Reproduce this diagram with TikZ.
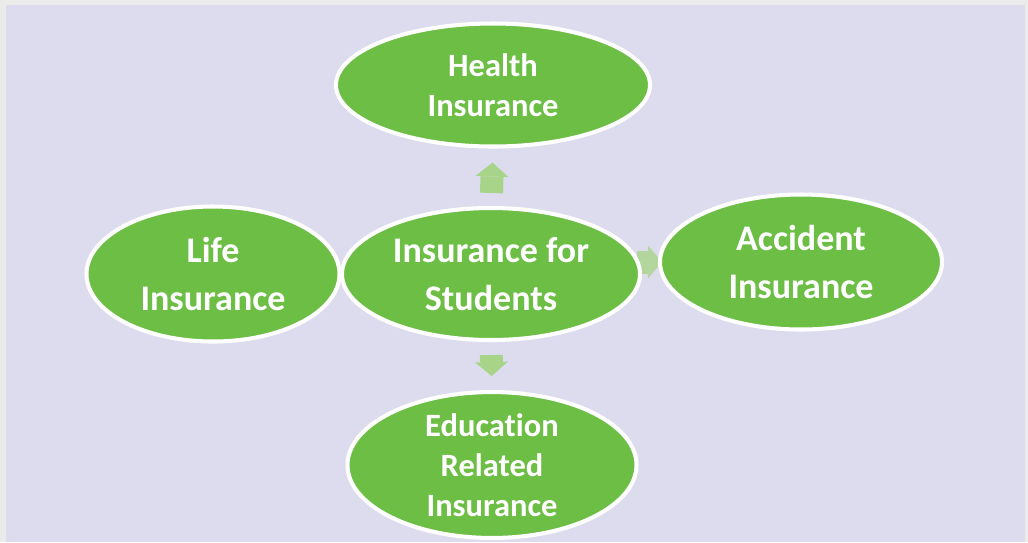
\documentclass[tikz,border=0pt]{standalone}
\usepackage{fontspec}
\setmainfont{Carlito}[Ligatures=NoCommon]
\usepackage{tikz}
\usetikzlibrary{positioning, calc}
\usetikzlibrary{arrows.meta}
\usetikzlibrary{shapes,backgrounds}
\definecolor{leafgreen}{RGB}{108,190,69}
\definecolor{palegreen}{RGB}{168,212,138}
\definecolor{lavender}{RGB}{221,220,238}
\definecolor{framegray}{RGB}{235,235,235}

\begin{document}
\begin{tikzpicture}[draw=black!100]
	\def \rowtop{-1.70cm}
	\def \rowmid{-5.48cm}
	\def \rowmidr{-5.24cm}
	\def \rowbot{-9.30cm}
	\tikzstyle{ins-node}=[ellipse,fill=leafgreen,draw=white,line width=2.3pt,text=white,align=center,inner sep=0pt,font=\bfseries\fontsize{18.5}{22.8}\selectfont]
	\tikzstyle{ins-big}=[ins-node,font=\bfseries\fontsize{20.5}{27}\selectfont]
	\tikzstyle{blk-arrow}=[palegreen,line width=0.46cm,-{Triangle[length=0.28cm,width=0.66cm,line width=0pt]}]
	\useasboundingbox (0,0) rectangle (20.56,-10.84);

	% insurance types
	\node[ins-big,minimum width=5.96cm,minimum height=2.64cm] (ctr) at (9.82cm,\rowmid) {Insurance for\\Students};
	\node[ins-node,minimum width=6.28cm,minimum height=2.46cm] (hlth) at (9.86cm,\rowtop) {Health\\Insurance};
	\node[ins-big,minimum width=5.06cm,minimum height=2.70cm] (life) at (4.26cm,\rowmid) {Life\\Insurance};
	\node[ins-big,minimum width=5.64cm,minimum height=2.70cm] (acc) at (16.02cm,\rowmidr) {Accident\\Insurance};
	\node[ins-node,minimum width=5.78cm,minimum height=2.80cm] (edu) at (9.84cm,\rowbot) {Education\\Related\\Insurance};

	\begin{scope}[on background layer]
		\fill[framegray] (0,0) rectangle (20.56,-10.84);
		\fill[lavender] (0.12,-0.09) rectangle (20.50,-10.84);
		% block arrows
		\draw[blk-arrow,shorten <=0.26cm,shorten >=0.28cm] (ctr.north) -- (hlth.south);
		\draw[blk-arrow,shorten <=0.26cm,shorten >=0.28cm] (ctr.south) -- (edu.north);
		\draw[blk-arrow,palegreen!80!lavender,shorten <=-0.1cm,shorten >=-0.08cm] (ctr.east |- acc.west) -- (acc.west);
	\end{scope}
\end{tikzpicture}
\end{document}
